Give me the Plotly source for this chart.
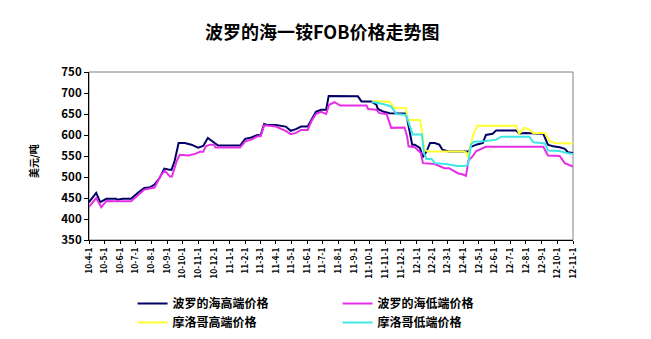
import plotly.graph_objects as go

# ---- data ----
navy_dates = ["2010-04-01","2010-04-15","2010-04-23","2010-05-05","2010-05-24","2010-05-26","2010-06-06","2010-06-22",
              "2010-07-05","2010-07-18","2010-07-28","2010-08-07","2010-08-17","2010-08-26","2010-09-03","2010-09-09",
              "2010-09-15","2010-09-23","2010-10-05","2010-10-18","2010-10-31","2010-11-10","2010-11-19","2010-11-29",
              "2010-12-09","2011-01-21","2011-01-31","2011-02-12","2011-02-24","2011-03-02","2011-03-09","2011-03-15",
              "2011-04-01","2011-04-20","2011-04-30","2011-05-10","2011-05-20","2011-06-02","2011-06-09","2011-06-18",
              "2011-06-28","2011-07-08","2011-07-13","2011-09-08","2011-09-15","2011-10-04","2011-10-14","2011-10-17",
              "2011-10-27","2011-11-09","2011-12-11","2011-12-14","2011-12-18","2011-12-23","2011-12-28","2012-01-07",
              "2012-01-13","2012-01-20","2012-01-27","2012-02-05","2012-02-14","2012-02-20","2012-03-03","2012-03-31",
              "2012-04-12","2012-04-15","2012-04-26","2012-05-09","2012-05-15","2012-05-28","2012-06-04","2012-07-13",
              "2012-07-19","2012-07-29","2012-09-04","2012-09-13","2012-09-23","2012-10-06","2012-10-16","2012-10-22",
              "2012-11-01"]
navy_vals = [440,462,440,448,448,446,448,448,
             462,474,475,482,498,520,518,517,
             537,581,581,577,570,574,593,583,
             575,575,591,594,600,599,626,624,
             624,620,610,614,620,620,636,655,
             660,660,693,692,680,680,672,662,
             656,652,651,636,609,577,577,569,
             547,561,581,581,577,565,561,561,
             561,571,577,581,600,603,611,611,
             603,605,603,577,573,571,567,559,
             557]

magenta_dates = ["2010-04-01","2010-04-15","2010-04-25","2010-05-05","2010-05-26","2010-06-22","2010-07-05","2010-07-18",
                 "2010-08-07","2010-08-20","2010-08-27","2010-09-06","2010-09-10","2010-09-19","2010-09-25","2010-10-12",
                 "2010-10-25","2010-11-04","2010-11-10","2010-11-15","2010-11-23","2010-12-01","2010-12-04","2011-01-21",
                 "2011-01-31","2011-02-12","2011-02-24","2011-03-02","2011-03-09","2011-04-01","2011-04-20","2011-04-30",
                 "2011-05-10","2011-05-20","2011-06-02","2011-06-09","2011-06-18","2011-06-28","2011-07-08","2011-07-14",
                 "2011-07-24","2011-08-05","2011-09-25","2011-09-28","2011-10-14","2011-10-20","2011-11-03","2011-11-07",
                 "2011-11-12","2011-12-08","2011-12-13","2011-12-16","2011-12-28","2012-01-09","2012-01-13","2012-02-05",
                 "2012-02-24","2012-03-04","2012-03-21","2012-03-31","2012-04-06","2012-04-11","2012-04-19","2012-04-26",
                 "2012-05-15","2012-09-04","2012-09-13","2012-10-06","2012-10-16","2012-11-01"]
magenta_vals = [429,450,428,443,442,442,456,470,
                475,505,515,501,501,537,553,551,
                555,560,560,573,577,577,570,570,
                585,589,597,597,623,620,610,602,
                605,612,612,632,650,655,650,672,
                678,670,670,662,660,652,650,636,
                617,618,597,573,571,557,533,531,
                521,521,509,506,503,540,549,562,
                572,572,551,550,533,525]

yellow_dates = ["2011-10-07","2011-11-09","2011-11-18","2011-12-11","2011-12-14","2012-01-07","2012-01-11","2012-01-16",
                "2012-01-23","2012-03-31","2012-04-06","2012-04-10","2012-04-19","2012-04-28","2012-07-13","2012-07-19",
                "2012-07-29","2012-08-08","2012-08-15","2012-09-07","2012-09-17","2012-09-27","2012-11-01"]
yellow_vals = [681,679,665,664,636,636,609,565,
               561,561,559,546,597,622,622,603,
               617,613,605,605,585,581,580]

cyan_dates = ["2011-10-05","2011-10-27","2011-11-12","2011-11-22","2011-12-11","2011-12-18","2011-12-24","2012-01-11",
              "2012-01-15","2012-01-20","2012-01-30","2012-02-05","2012-02-27","2012-03-20","2012-04-03","2012-04-10",
              "2012-04-16","2012-04-22","2012-05-12","2012-06-04","2012-06-14","2012-08-08","2012-08-15","2012-09-07",
              "2012-09-13","2012-10-06","2012-10-16","2012-11-01"]
cyan_vals = [679,674,668,650,648,625,601,601,
             557,543,543,533,531,526,526,529,
             578,584,585,589,596,596,583,580,
             563,562,558,555]

series_names = ["波罗的海高端价格", "波罗的海低端价格", "摩洛哥高端价格", "摩洛哥低端价格"]
series_colors = ["#000066", "#E62EE6", "#FFFF33", "#3FE6E6"]

tick_dates = ["2010-04-01","2010-05-01","2010-06-01","2010-07-01","2010-08-01","2010-09-01","2010-10-01","2010-11-01",
              "2010-12-01","2011-01-01","2011-02-01","2011-03-01","2011-04-01","2011-05-01","2011-06-01","2011-07-01",
              "2011-08-01","2011-09-01","2011-10-01","2011-11-01","2011-12-01","2012-01-01","2012-02-01","2012-03-01",
              "2012-04-01","2012-05-01","2012-06-01","2012-07-01","2012-08-01","2012-09-01","2012-10-01","2012-11-01"]
tick_labels = ["10-4-1","10-5-1","10-6-1","10-7-1","10-8-1","10-9-1","10-10-1","10-11-1",
               "10-12-1","11-1-1","11-2-1","11-3-1","11-4-1","11-5-1","11-6-1","11-7-1",
               "11-8-1","11-9-1","11-10-1","11-11-1","11-12-1","12-1-1","12-2-1","12-3-1",
               "12-4-1","12-5-1","12-6-1","12-7-1","12-8-1","12-9-1","12-10-1","12-11-1"]
y_ticks = [350, 400, 450, 500, 550, 600, 650, 700, 750]

title_text = "波罗的海一铵FOB价格走势图"
y_title = "美元/吨"

FONT = "Noto Sans CJK SC"

fig = go.Figure()
all_series = [(navy_dates, navy_vals), (magenta_dates, magenta_vals),
              (yellow_dates, yellow_vals), (cyan_dates, cyan_vals)]
for (d, v), name, col in zip(all_series, series_names, series_colors):
    fig.add_trace(go.Scatter(x=d, y=v, mode="lines", name=name,
                             line=dict(color=col, width=2, shape="linear")))

fig.update_layout(
    width=651, height=339,
    margin=dict(l=89, r=78, t=72, b=99, autoexpand=False),
    paper_bgcolor="white", plot_bgcolor="white",
    font=dict(family=FONT, color="black"),
    title=dict(text=title_text, x=0.495, xanchor="center",
               y=1 - 33 / 339, yanchor="middle", yref="container",
               font=dict(size=18, family=FONT, color="black", weight="bold")),
    showlegend=True,
    legend=dict(orientation="h", x=0.09, xanchor="left",
                yref="container", y=1 - 289 / 339, yanchor="top",
                entrywidth=160, entrywidthmode="pixels",
                font=dict(size=12, family=FONT, color="black", weight="bold"),
                itemwidth=30, tracegroupgap=0, bgcolor="rgba(0,0,0,0)"),
    xaxis=dict(type="date", range=["2010-04-01", "2012-11-01"],
               tickmode="array", tickvals=tick_dates, ticktext=tick_labels,
               tickangle=-90, tickfont=dict(size=8.5, family=FONT, color="black", weight="bold"),
               showgrid=False, zeroline=False, showline=True, linecolor="black", linewidth=1,
               ticks="outside", ticklen=3, tickcolor="black", automargin=False),
    yaxis=dict(range=[350, 750], tickmode="array", tickvals=y_ticks,
               ticktext=[str(t) for t in y_ticks],
               tickfont=dict(size=11.5, family=FONT, color="black", weight="bold"),
               showgrid=False, zeroline=False, showline=True, linecolor="black", linewidth=1,
               ticks="outside", ticklen=4, tickcolor="black", automargin=False),
    shapes=[dict(type="rect", xref="paper", yref="paper", x0=0, x1=1, y0=0, y1=1,
                 line=dict(color="#808080", width=1), layer="below")],
    annotations=[dict(text=y_title, xref="paper", yref="paper",
                      x=(33 - 89) / 484, y=0.47, textangle=-90, showarrow=False,
                      xanchor="center", yanchor="middle",
                      font=dict(size=10, family=FONT, color="black", weight="bold"))],
)

fig.write_html("out.html")
